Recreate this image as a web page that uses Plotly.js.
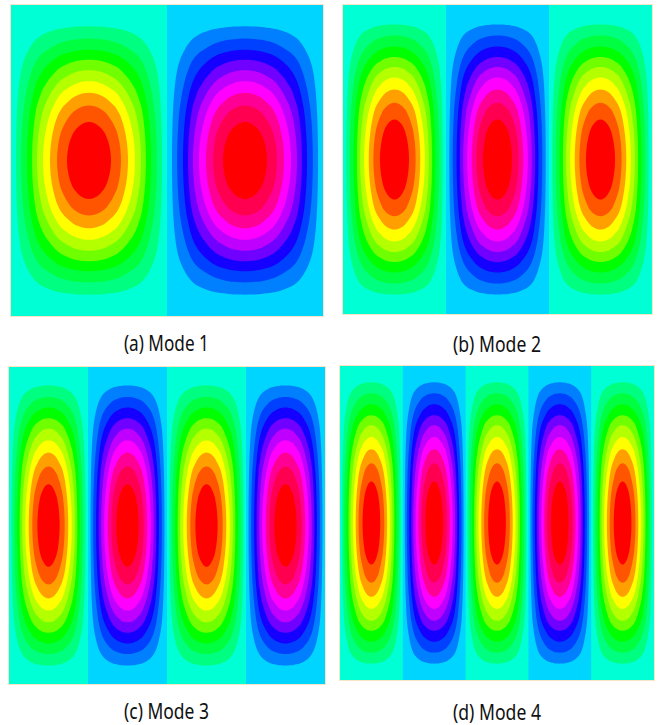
<!DOCTYPE html>
<html>
<head>
<meta charset="utf-8">
<script src="https://cdn.plot.ly/plotly-3.0.1.min.js"></script>
<style>html,body{margin:0;padding:0;background:#fff}#chart{width:658px;height:725px}</style>
</head>
<body>
<div id="chart"></div>
<script>
// Field level read at each contour crossing (centre of a lobe to its edge)
const profileLevels = [1, 0.994, 0.976, 0.946, 0.9, 0.855, 0.8, 0.7, 0.6, 0.5, 0.4, 0.3, 0.2, 0.1, 0.01];
// Where those levels are crossed across a lobe (fraction of half a lobe)
const lobeCrossings = [0, 0.07, 0.14, 0.21, 0.282, 0.35, 0.41, 0.5, 0.59, 0.667, 0.73, 0.795, 0.87, 0.936, 1];
// Where they are crossed up/down the panel (fraction of half the height), per mode
const heightCrossings1 = [0, 0.06, 0.12, 0.18, 0.247, 0.30, 0.353, 0.436, 0.51, 0.581, 0.648, 0.712, 0.784, 0.863, 1];
const heightCrossings2 = [0, 0.063, 0.126, 0.19, 0.259, 0.315, 0.367, 0.453, 0.531, 0.599, 0.663, 0.731, 0.803, 0.874, 1];
const heightCrossings3 = [0, 0.063, 0.127, 0.19, 0.26, 0.316, 0.372, 0.46, 0.537, 0.611, 0.677, 0.744, 0.811, 0.884, 1];
const heightCrossings4 = [0, 0.065, 0.13, 0.194, 0.265, 0.323, 0.381, 0.47, 0.547, 0.623, 0.687, 0.756, 0.826, 0.896, 1];
const modeLobes = [2, 3, 4, 5];
const captions = ["(a) Mode 1", "(b) Mode 2", "(c) Mode 3", "(d) Mode 4"];
const positiveBands = ["#00ffd5", "#00ff80", "#00ff40", "#00ff00", "#70ff00", "#b4ff00", "#ffff00", "#ffa000", "#ff5500", "#ff0000"];
const negativeBands = ["#00d5ff", "#0080ff", "#0040ff", "#1500ff", "#7000ff", "#bf00ff", "#ff00ff", "#ff0095", "#ff0050", "#ff0000"];
// Panel boxes in page pixels: left, right, top, bottom
const panelBoxes = [[11, 323, 5, 316], [343, 652, 5, 314], [9, 325, 367, 684], [340, 654, 366, 680]];
const captionSpots = [[166, 342], [497, 343], [166, 710], [497, 711]];
const captionWidths = [85, 88, 85, 88];

const W = 658, H = 725;
const heightTables = [heightCrossings1, heightCrossings2, heightCrossings3, heightCrossings4];

const scale = [];
const bands = negativeBands.slice().reverse().concat(positiveBands);
bands.forEach((c, i) => {
  scale.push([i / bands.length, c]);
  scale.push([(i + 1) / bands.length, c]);
});

function lobeAxis(n) {
  const xs = [], vs = [];
  for (let l = 0; l < n; l++) {
    const sign = l % 2 === 0 ? 1 : -1;
    const c = l + 0.5;
    for (let i = lobeCrossings.length - 1; i >= 0; i--) {
      if (i === lobeCrossings.length - 1 && l !== 0) continue;
      xs.push(c - lobeCrossings[i] / 2); vs.push(sign * profileLevels[i]);
    }
    for (let i = 1; i < lobeCrossings.length; i++) {
      if (i === lobeCrossings.length - 1 && l !== n - 1) continue;
      xs.push(c + lobeCrossings[i] / 2); vs.push(sign * profileLevels[i]);
    }
  }
  return {xs, vs};
}
function heightAxis(tbl) {
  const ys = [], vs = [];
  for (let i = tbl.length - 1; i >= 0; i--) { ys.push(-tbl[i]); vs.push(profileLevels[i]); }
  for (let i = 1; i < tbl.length; i++) { ys.push(tbl[i]); vs.push(profileLevels[i]); }
  return {ys, vs};
}

const traces = [];
const layout = {
  width: W, height: H,
  margin: {l: 0, r: 0, t: 0, b: 0},
  paper_bgcolor: "#ffffff", plot_bgcolor: "#ffffff",
  showlegend: false,
  annotations: []
};
modeLobes.forEach((n, k) => {
  const X = lobeAxis(n), Y = heightAxis(heightTables[k]);
  const z = Y.vs.map(a => X.vs.map(b => a * b));
  const suffix = k === 0 ? "" : String(k + 1);
  traces.push({
    type: "contour", x: X.xs, y: Y.ys, z: z,
    xaxis: "x" + suffix, yaxis: "y" + suffix,
    autocontour: false,
    contours: {start: -0.9, end: 0.9, size: 0.1, coloring: "fill", showlines: false},
    line: {width: 0, smoothing: 1},
    colorscale: scale, zmin: -1, zmax: 1,
    showscale: false, hoverinfo: "skip"
  });
  const b = panelBoxes[k];
  const axisStyle = {showgrid: false, zeroline: false, showticklabels: false, ticks: "",
    showline: true, mirror: true, linecolor: "#fbe3c6", linewidth: 1, fixedrange: true};
  layout["xaxis" + suffix] = Object.assign({}, axisStyle, {
    domain: [b[0] / W, b[1] / W], range: [0, n], anchor: "y" + suffix});
  layout["yaxis" + suffix] = Object.assign({}, axisStyle, {
    domain: [1 - b[3] / H, 1 - b[2] / H], range: [-1, 1], anchor: "x" + suffix});
  layout.annotations.push({
    text: captions[k], showarrow: false, xref: "paper", yref: "paper",
    x: captionSpots[k][0] / W, y: 1 - captionSpots[k][1] / H,
    xanchor: "center", yanchor: "middle",
    font: {family: "Noto Sans, Open Sans, sans-serif", size: 22, color: "#111111"}
  });
});
Plotly.newPlot("chart", traces, layout, {displayModeBar: false, staticPlot: true}).then(() => {
  // The original caption face is condensed: fit each real text run to its read width
  document.querySelectorAll("#chart .annotation-text").forEach((t, i) => {
    t.setAttribute("textLength", captionWidths[i]);
    t.setAttribute("lengthAdjust", "spacingAndGlyphs");
  });
});
</script>
</body>
</html>
